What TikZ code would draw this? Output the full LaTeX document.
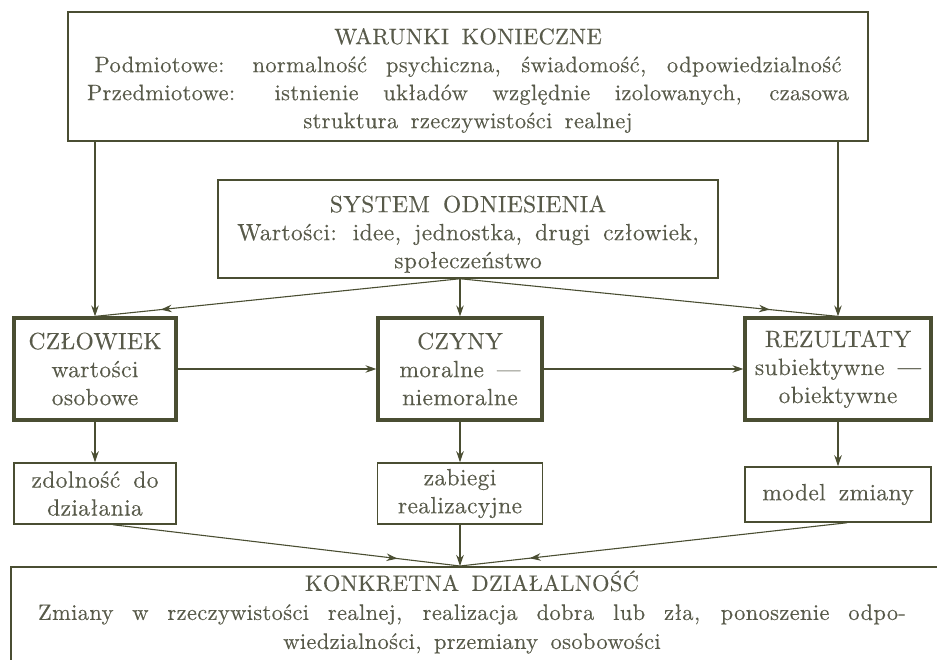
\documentclass[tikz,border=0pt]{standalone}
\usepackage{fontspec}
\setmainfont{lmroman10-regular.otf}[LetterSpace=1.5, WordSpace=1.6, FakeBold=0.25]
\usepackage{xcolor}
\usepackage{tikz}
\usetikzlibrary{arrows.meta, decorations.markings}

\definecolor{ink}{RGB}{74,78,50}
\definecolor{inktext}{RGB}{88,90,74}
\newcommand{\spread}[2]{\makebox[#1][s]{#2}}

\begin{document}
\begin{tikzpicture}[x=1pt, y=-1pt,
    thinbox/.style={draw=ink, line width=1.5pt, align=center, inner sep=2pt,
        text=inktext, font=\fontsize{22.5}{28}\selectfont},
    midbox/.style={thinbox, font=\fontsize{23.5}{28}\selectfont},
    thickbox/.style={midbox, line width=3.2pt},
    arr/.style={draw=ink, line width=1.1pt, -{Stealth[length=11pt,width=7.5pt]}},
    midarr/.style={draw=ink, line width=1.1pt, postaction={decorate},
        decoration={markings, mark=at position 0.82 with {\arrow{Stealth[length=11pt,width=7.5pt]}}}}]
        \useasboundingbox (0,0) rectangle (937,660);

        \node[thinbox, minimum width=800pt, minimum height=129pt] (warunki) at (468,76.5)
            {\rule{0pt}{24pt}WARUNKI KONIECZNE\\
             \spread{747pt}{Podmiotowe: normalność psychiczna, świadomość, odpowiedzialność}\\
             \spread{762pt}{Przedmiotowe: istnienie układów względnie izolowanych, czasowa}\\
             struktura rzeczywistości realnej};
        \node[midbox, minimum width=500pt, minimum height=98pt] (system) at (468,229)
            {\rule{0pt}{27pt}SYSTEM ODNIESIENIA\\ Wartości: idee, jednostka, drugi człowiek,\\ społeczeństwo};

        \node[thickbox, minimum width=162pt, minimum height=102pt] (czlowiek) at (95,369)
            {CZŁOWIEK\\ wartości\\ osobowe};
        \node[thickbox, minimum width=164pt, minimum height=102pt] (czyny) at (460,369)
            {CZYNY\\ moralne —\\ niemoralne};
        \node[thickbox, minimum width=186pt, minimum height=102pt] (rezultaty) at (838,369)
            {REZULTATY\\ subiektywne —\\ obiektywne};

        \node[midbox, minimum width=162pt, minimum height=61pt] (zdolnosc) at (95,493.5)
            {zdolność do\\ działania};
        \node[midbox, minimum width=165pt, minimum height=61pt] (zabiegi) at (460,493.5)
            {zabiegi\\ realizacyjne};
        \node[midbox, minimum width=186pt, minimum height=55pt] (model) at (838,494.5)
            {model zmiany};

        \node[thinbox, minimum width=950pt, minimum height=110pt, anchor=north west] (konkretna) at (10,566) {};
        \node[text=inktext, align=center, font=\fontsize{22.5}{29}\selectfont] (konkretnatxt) at (472,612)
            {KONKRETNA DZIAŁALNOŚĆ\\
             \spread{868pt}{Zmiany w rzeczywistości realnej, realizacja dobra lub zła, ponoszenie odpo-}\\
             wiedzialności, przemiany osobowości};

        \coordinate (sysout) at (system.south -| czyny.north);
        \coordinate (join) at (zabiegi.south |- konkretna.north);

        \draw[arr] (warunki.south -| czlowiek.north) -- (czlowiek.north);
        \draw[arr] (warunki.south -| rezultaty.north) -- (rezultaty.north);
        \draw[arr] (sysout) -- (czyny.north);
        \draw[midarr] (sysout) -- (czlowiek.north);
        \draw[midarr] (sysout) -- (rezultaty.north);

        \draw[arr] (czlowiek.east) -- (czyny.west);
        \draw[arr] (czyny.east) -- (rezultaty.west);

        \draw[arr] (czlowiek.south) -- (zdolnosc.north);
        \draw[arr] (czyny.south) -- (zabiegi.north);
        \draw[arr] (rezultaty.south) -- (model.north);

        \draw[midarr] ([xshift=18pt]zdolnosc.south) -- (join);
        \draw[midarr] ([xshift=9pt]model.south) -- (join);
        \draw[arr] (zabiegi.south) -- (join);
    \end{tikzpicture}
\end{document}
